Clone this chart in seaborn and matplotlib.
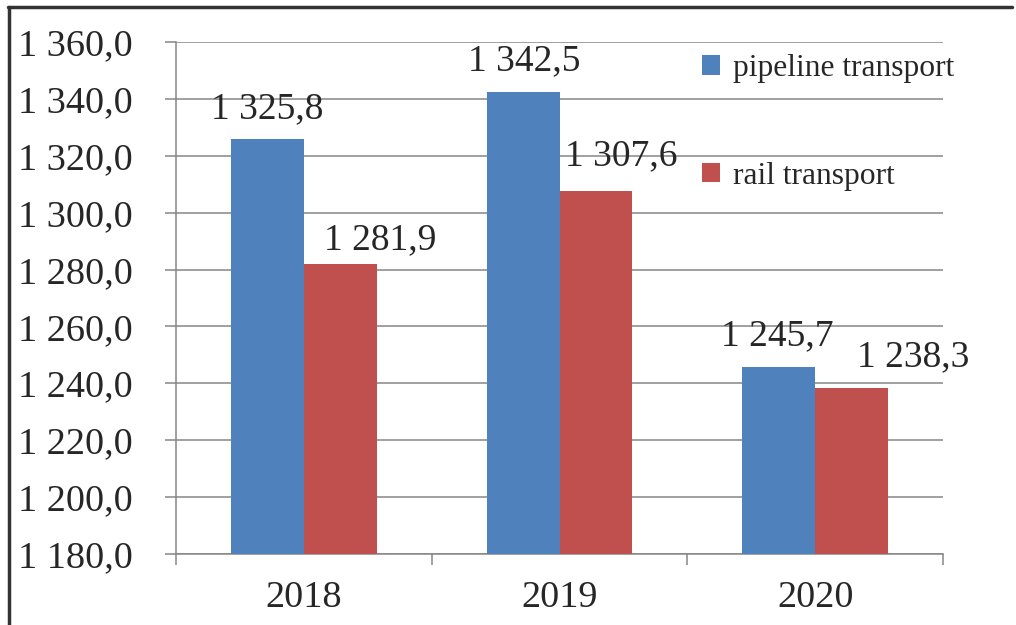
import pandas as pd
import numpy as np
import matplotlib.pyplot as plt
import seaborn as sns
from matplotlib.ticker import FuncFormatter, FixedLocator
from matplotlib.lines import Line2D

years = ['2018', '2019', '2020']
pipeline = [1325.8, 1342.5, 1245.7]
rail = [1281.9, 1307.6, 1238.3]
series = ['pipeline transport', 'rail transport']
colors = ['#4F81BD', '#C0504D']

df = pd.DataFrame({
    'year': years * 2,
    'value': pipeline + rail,
    'kind': [series[0]] * 3 + [series[1]] * 3,
})

sns.set_style('white')
plt.rcParams['font.family'] = ['Liberation Serif', 'DejaVu Serif']

def ru(v, pos=None):
    return f'{v:,.1f}'.replace(',', ' ').replace('.', ',')

fig = plt.figure(figsize=(10.16, 6.25), dpi=100)
ax = fig.add_axes([176/1016, 1 - 554/625, (943-176)/1016, (554-42)/625])

sns.barplot(data=df, x='year', y='value', hue='kind', palette=colors,
            width=0.57, saturation=1, linewidth=0, ax=ax, zorder=3)

ax.set_ylim(1180, 1360)
ax.set_xlim(-0.5, 2.5)
ax.yaxis.set_major_locator(FixedLocator(np.arange(1180, 1361, 20)))
ax.yaxis.set_major_formatter(FuncFormatter(ru))
ax.grid(axis='y', color='#868686', linewidth=1.1, zorder=0)
ax.set_axisbelow(True)
ax.set_xlabel('')
ax.set_ylabel('')

for s in ['top', 'right']:
    ax.spines[s].set_visible(False)
for s in ['left', 'bottom']:
    ax.spines[s].set_color('#868686')
    ax.spines[s].set_linewidth(1.1)

ax.tick_params(axis='y', length=8, width=1.1, color='#868686', pad=23,
               labelsize=27.5, direction='out', left=True)
ax.tick_params(axis='x', which='major', length=0, pad=19, labelsize=27.5)
ax.xaxis.set_minor_locator(FixedLocator([-0.5, 0.5, 1.5, 2.5]))
ax.tick_params(axis='x', which='minor', length=8, width=1.1, color='#868686',
               direction='out', bottom=True)

# label nudges in pixels (labels were hand-placed in the original)
nudge_x = [[0, 1, -1], [40, 25, 62]]
nudge_y = [[21, 22, 22], [15, 26, 22]]
for i, c in enumerate(ax.containers):
    for j, b in enumerate(c):
        ax.annotate(ru(b.get_height()),
                    (b.get_x() + b.get_width() / 2, b.get_height()),
                    xytext=(nudge_x[i][j], nudge_y[i][j]),
                    textcoords='offset pixels', ha='center', va='baseline',
                    fontsize=27, zorder=5)

sns.move_legend(ax, 'upper left', bbox_to_anchor=(702/1016, 1 - 54/625),
                bbox_transform=fig.transFigure, frameon=False, title=None,
                fontsize=22.7, labelspacing=2.5, handlelength=0.57,
                handleheight=0.57, handletextpad=0.4, borderpad=0,
                borderaxespad=0)

# outer frame (top and left edges)
fig.add_artist(Line2D([8/1016, 1012/1016], [1 - 7/625, 1 - 7/625],
                      transform=fig.transFigure, color='#333333', linewidth=2.5))
fig.add_artist(Line2D([9/1016, 9/1016], [0, 1 - 7/625],
                      transform=fig.transFigure, color='#333333', linewidth=2.5))

fig.savefig('out.png', dpi=100)
